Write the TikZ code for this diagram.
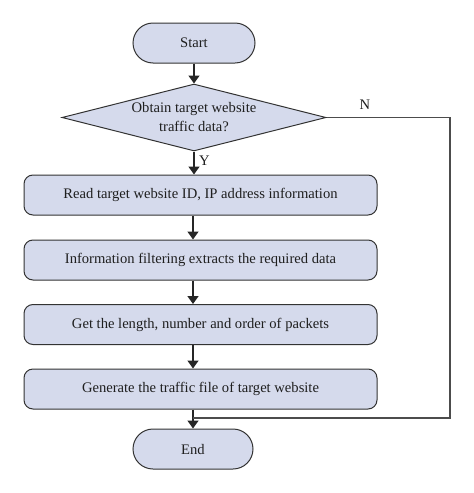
\documentclass[tikz,border=0pt]{standalone}
\usepackage{fontspec}
\setmainfont{Liberation Serif}
\usetikzlibrary{shapes.geometric,arrows.meta}
\definecolor{boxfill}{HTML}{D5DAEC}
\definecolor{boxline}{HTML}{333333}
\begin{document}
\begin{tikzpicture}[x=1pt,y=-1pt,
  every node/.style={font=\fontsize{14.6}{19}\selectfont, text=black!88},
  term/.style={draw=boxline, line width=1pt, fill=boxfill, rounded corners=20pt, minimum width=122pt, minimum height=40pt, inner sep=0pt},
  proc/.style={draw=boxline, line width=1pt, fill=boxfill, rounded corners=9pt, minimum width=353pt, minimum height=40pt, inner sep=0pt},
  decis/.style={draw=boxline, line width=1pt, fill=boxfill, diamond, aspect=3.94, minimum width=264pt, minimum height=67pt, inner sep=0pt, align=center},
  flow/.style={line width=1.6pt, draw=black!85, -{Triangle[width=11pt,length=8pt]}},
  back/.style={line width=1.2pt, draw=black!70}
]
\useasboundingbox (0,0) rectangle (474,493);
\node[term] (start) at (194,43) {Start};
\node[decis] (dec) at (194,117.5) {Obtain target website\\traffic data?};
\node[proc] (p1) at (200.5,195) {Read target website ID, IP address information};
\node[proc] (p2) at (200.5,260) {Information filtering extracts the required data};
\node[proc] (p3) at (200.5,324.5) {Get the length, number and order of packets};
\node[proc] (p4) at (200.5,389) {Generate the traffic file of target website};
\node[term, minimum width=120pt] (end) at (193,449) {End};
\coordinate (ncorner) at (450,418);
\coordinate (join) at (193,418);
\draw[flow] (start.south) -- (dec.north);
\draw[flow] (dec.south) -- node[right, pos=0.4, xshift=1pt] (ylab) {Y} (dec.south |- p1.north);
\draw[flow] (p1.south -| join) -- (p2.north -| join);
\draw[flow] (p2.south -| join) -- (p3.north -| join);
\draw[flow] (p3.south -| join) -- (p4.north -| join);
\draw[flow] (p4.south -| join) -- (end.north);
\draw[back] (dec.east) -| (ncorner) -- (join);
\node (nlab) at (365,105) {N};
\end{tikzpicture}
\end{document}
